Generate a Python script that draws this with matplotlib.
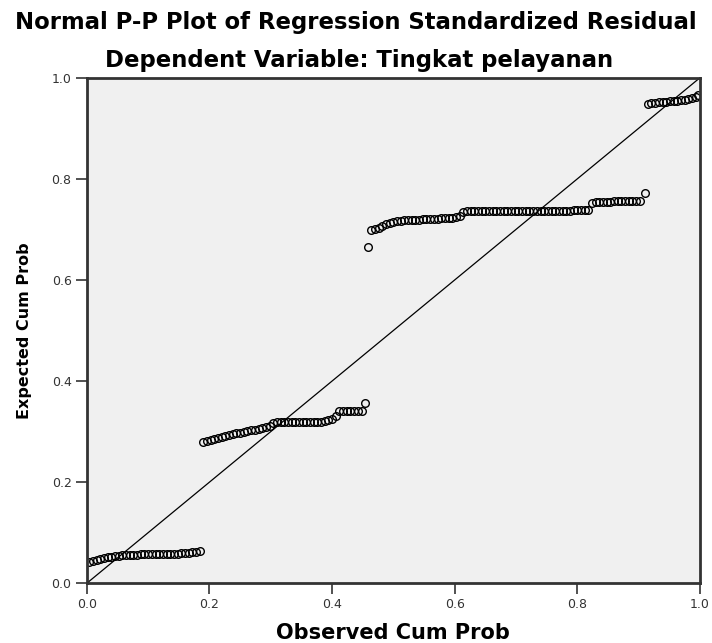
import matplotlib
matplotlib.use("Agg")
import matplotlib.pyplot as plt

# observed vs expected cumulative probabilities
obs_low = [0.004, 0.010, 0.016, 0.022, 0.028, 0.034, 0.040, 0.046, 0.052, 0.058,
           0.064, 0.070, 0.076, 0.082, 0.088, 0.094, 0.100, 0.106, 0.112, 0.118,
           0.124, 0.130, 0.136, 0.142, 0.148, 0.154, 0.160, 0.166, 0.172, 0.178,
           0.184]
exp_low = [0.042, 0.044, 0.046, 0.048, 0.050, 0.051, 0.052, 0.053, 0.054, 0.055,
           0.055, 0.056, 0.056, 0.056, 0.057, 0.057, 0.057, 0.057, 0.057, 0.057,
           0.058, 0.058, 0.058, 0.058, 0.058, 0.059, 0.059, 0.060, 0.061, 0.062,
           0.063]

obs_mid = [0.190, 0.196, 0.202, 0.208, 0.214, 0.220, 0.226, 0.232, 0.238, 0.244,
           0.250, 0.256, 0.262, 0.268, 0.274, 0.280, 0.286, 0.292, 0.298, 0.304,
           0.310, 0.316, 0.322, 0.328, 0.334, 0.340, 0.346, 0.352, 0.358, 0.364,
           0.370, 0.376, 0.382, 0.388, 0.394, 0.400, 0.406, 0.412, 0.418, 0.424,
           0.430, 0.436, 0.442, 0.448, 0.454]
exp_mid = [0.280, 0.282, 0.284, 0.286, 0.288, 0.290, 0.292, 0.294, 0.295, 0.297,
           0.298, 0.300, 0.301, 0.303, 0.304, 0.306, 0.307, 0.309, 0.311, 0.317,
           0.318, 0.318, 0.318, 0.318, 0.318, 0.318, 0.318, 0.318, 0.318, 0.318,
           0.318, 0.319, 0.319, 0.320, 0.322, 0.325, 0.330, 0.340, 0.340, 0.340,
           0.340, 0.341, 0.341, 0.341, 0.357]

obs_high = [0.458, 0.464, 0.470, 0.476, 0.482, 0.488, 0.494, 0.500, 0.506, 0.512,
            0.518, 0.524, 0.530, 0.536, 0.542, 0.548, 0.554, 0.560, 0.566, 0.572,
            0.578, 0.584, 0.590, 0.596, 0.602, 0.608, 0.614, 0.620, 0.626, 0.632,
            0.638, 0.644, 0.650, 0.656, 0.662, 0.668, 0.674, 0.680, 0.686, 0.692,
            0.698, 0.704, 0.710, 0.716, 0.722, 0.728, 0.734, 0.740, 0.746, 0.752,
            0.758, 0.764, 0.770, 0.776, 0.782, 0.788, 0.794, 0.800, 0.806, 0.812,
            0.818, 0.824, 0.830, 0.836, 0.842, 0.848, 0.854, 0.860, 0.866, 0.872,
            0.878, 0.884, 0.890, 0.896, 0.902, 0.910]
exp_high = [0.665, 0.699, 0.701, 0.703, 0.706, 0.710, 0.713, 0.715, 0.716, 0.717,
            0.718, 0.718, 0.719, 0.719, 0.719, 0.720, 0.720, 0.720, 0.721, 0.721,
            0.722, 0.722, 0.723, 0.723, 0.724, 0.727, 0.735, 0.736, 0.737, 0.737,
            0.737, 0.737, 0.737, 0.737, 0.737, 0.737, 0.737, 0.737, 0.737, 0.737,
            0.737, 0.737, 0.737, 0.737, 0.737, 0.737, 0.737, 0.737, 0.737, 0.737,
            0.737, 0.737, 0.737, 0.737, 0.737, 0.737, 0.738, 0.738, 0.738, 0.738,
            0.738, 0.752, 0.754, 0.755, 0.755, 0.755, 0.755, 0.756, 0.756, 0.756,
            0.756, 0.756, 0.757, 0.757, 0.757, 0.772]

obs_top = [0.915, 0.921, 0.927, 0.933, 0.939, 0.945, 0.951, 0.957, 0.963, 0.969,
           0.975, 0.981, 0.987, 0.993, 0.997]
exp_top = [0.949, 0.950, 0.951, 0.952, 0.952, 0.953, 0.954, 0.955, 0.955, 0.956,
           0.957, 0.958, 0.960, 0.962, 0.965]

ticks = [0.0, 0.2, 0.4, 0.6, 0.8, 1.0]
tick_labels = ["0.0", "0.2", "0.4", "0.6", "0.8", "1.0"]

observed = obs_low + obs_mid + obs_high + obs_top
expected = exp_low + exp_mid + exp_high + exp_top

plt.rcParams['font.family'] = ['DejaVu Sans']

fig = plt.figure(figsize=(7.12, 6.43), dpi=100)
ax = fig.add_axes([0.122, 0.093, 0.861, 0.786])
ax.set_facecolor('#f0f0f0')

ax.plot([0, 1], [0, 1], color='black', linewidth=0.9)
ax.plot(observed, expected, 'o', markerfacecolor='none', markeredgecolor='black',
        markersize=5.5, markeredgewidth=1.0)

ax.set_xlim(0, 1)
ax.set_ylim(0, 1)
ax.set_xticks(ticks)
ax.set_xticklabels(tick_labels)
ax.set_yticks(ticks)
ax.set_yticklabels(tick_labels)
ax.tick_params(direction='out', length=8, width=1.2, colors='#333333',
               labelsize=9, pad=3, top=False, right=False)
for sp in ax.spines.values():
    sp.set_linewidth(2)
    sp.set_color('#333333')

ax.set_xlabel("Observed Cum Prob", fontsize=15, fontweight='bold', labelpad=8)
ax.set_ylabel("Expected Cum Prob", fontsize=11.5, fontweight='bold', labelpad=14)

fig.text(0.5, 1 - 22 / 643, "Normal P-P Plot of Regression Standardized Residual",
         ha='center', va='center', fontsize=16.4, fontweight='bold')
fig.text(0.504, 1 - 60 / 643, "Dependent Variable: Tingkat pelayanan",
         ha='center', va='center', fontsize=16.4, fontweight='bold')

fig.savefig('out.png', dpi=100)
